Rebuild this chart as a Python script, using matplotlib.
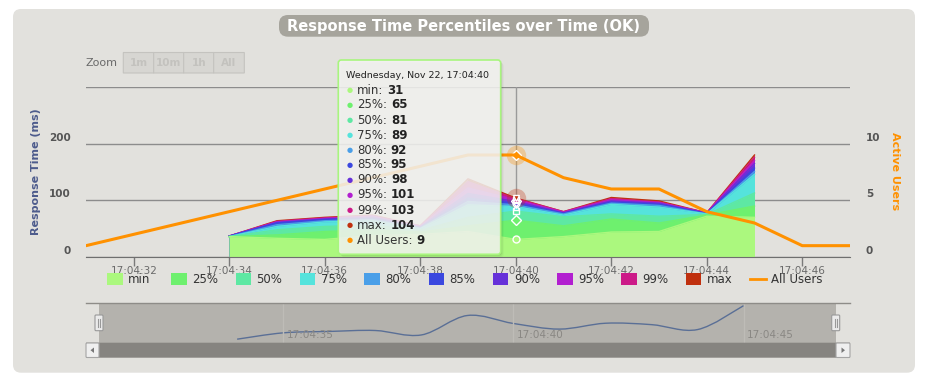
import numpy as np
import matplotlib
matplotlib.use("Agg")
import matplotlib.pyplot as plt
from matplotlib.patches import FancyBboxPatch, Rectangle, Polygon, PathPatch
from matplotlib.lines import Line2D
from matplotlib.path import Path
from matplotlib.transforms import Affine2D

# ---- data (seconds past 17:04) ----
times = [34, 35, 36, 37, 38, 39, 40, 41, 42, 43, 44, 45]
p_min = [36, 33, 31, 38, 40, 45, 31, 36, 44, 45, 72, 70]
p25 = [36, 39, 45, 48, 44, 55, 65, 55, 67, 60, 74, 90]
p50 = [36, 48, 54, 56, 47, 70, 81, 71, 76, 72, 75, 113]
p75 = [36, 54, 62, 64, 50, 92, 89, 74, 93, 88, 76, 146]
p80 = [36, 57, 64, 66, 51, 98, 92, 76, 95, 91, 76, 151]
p85 = [37, 60, 66, 68, 52, 104, 95, 77, 97, 93, 77, 157]
p90 = [37, 61, 67, 70, 53, 112, 98, 78, 99, 95, 77, 165]
p95 = [37, 62, 68, 72, 54, 122, 101, 79, 101, 96, 78, 170]
p99 = [37, 63, 69, 73, 55, 133, 103, 80, 103, 97, 78, 176]
p_max = [37, 64, 70, 74, 55, 138, 104, 80, 105, 99, 78, 180]

user_times = [31, 32, 33, 34, 35, 36, 37, 38, 39, 40, 41, 42, 43, 44, 45, 46, 47]
users = [1, 2, 3, 4, 5, 6, 7, 8, 9, 9, 7, 6, 6, 4, 3, 1, 1]

series_names = ["min", "25%", "50%", "75%", "80%", "85%", "90%", "95%", "99%", "max"]
series_vals = [p_min, p25, p50, p75, p80, p85, p90, p95, p99, p_max]
series_colors = ["#abf87e", "#6ef06e", "#5ee8a3", "#55e3dc", "#4a9fe8", "#3b48df",
                 "#6631d9", "#b21fd0", "#cc1a88", "#c0300e"]
markers = ["o", "D", "s", "^", "v", "o", "D", "s", "^", "v"]

x_ticks = [32, 34, 36, 38, 40, 42, 44, 46]
x_tick_labels = ["17:04:%02d" % s for s in x_ticks]
nav_ticks = [35, 40, 45]
hover_t = 40
hover_header = "Wednesday, Nov 22, 17:04:40"

users_color = "#ff9100"
W, H = 928, 382

fig = plt.figure(figsize=(W / 100, H / 100), dpi=100)
pix = Affine2D().scale(1, -1).translate(0, H)   # top-left pixel coords


def rect(x0, y0, x1, y1):
    return [x0 / W, 1 - y1 / H, (x1 - x0) / W, (y1 - y0) / H]


def box(x0, y0, x1, y1, r=0, **kw):
    p = FancyBboxPatch((x0, y0), x1 - x0, y1 - y0,
                       boxstyle="round,pad=0,rounding_size=%g" % r,
                       transform=pix, **kw)
    fig.patches.append(p)
    return p


def ftext(x, y, s, **kw):
    return fig.text(x / W, 1 - y / H, s, **kw)


# panel + title
box(13, 9, 915, 372.7, r=8, facecolor="#e2e1dd", edgecolor="none", zorder=-5)
box(279, 15, 649, 36.7, r=9, facecolor="#a6a49c", edgecolor="none", zorder=-4)
ftext(464, 26, "Response Time Percentiles over Time (OK)", ha="center", va="center",
      color="white", weight="bold", fontsize=10.5)

# zoom buttons
ftext(86, 63.5, "Zoom", ha="left", va="center", color="#6a6a6a", fontsize=8)
edges = [123.3, 153.7, 183.7, 213.7, 244.3]
for lab, a, b in zip(["1m", "10m", "1h", "All"], edges[:-1], edges[1:]):
    box(a, 52.5, b, 73, facecolor="#d7d6d2", edgecolor="#c4c3bf", linewidth=0.8, zorder=-3)
    ftext((a + b) / 2, 62.5, lab, ha="center", va="center", color="#c3c2be",
          fontsize=7.5, weight="bold")

# main chart
ax = fig.add_axes(rect(86, 87, 850, 257))
ax.patch.set_visible(False)
ax.set_xlim(31, 47)
ax.set_ylim(0, 300)
ax.set_yticks([0, 100, 200, 300])
ax.yaxis.grid(True, color="#8c8c8c", linewidth=1)
ax.set_axisbelow(True)
ax.tick_params(axis="y", length=0, labelleft=False)
ax.set_xticks(x_ticks)
ax.set_xticklabels(x_tick_labels)
ax.tick_params(axis="x", length=6.3, width=1, color="#7a7a7a", labelsize=7.5,
               labelcolor="#6a6a6a", pad=0.3)
for s in ["top", "left", "right"]:
    ax.spines[s].set_visible(False)
ax.spines["bottom"].set_color("#6f6f6f")

ax.axvline(hover_t, color="#9a9a9a", linewidth=1, zorder=1)

for vals, col in zip(reversed(series_vals), reversed(series_colors)):
    ax.fill_between(times, 0, vals, color=col, linewidth=0, zorder=2)
    ax.plot(times, vals, color=col, linewidth=1, zorder=2)

i_h = times.index(hover_t)
ax.plot([hover_t], [p_max[i_h]], "o", ms=14, color=series_colors[-1], alpha=0.3,
        mec="none", zorder=3)
for vals, col, m in zip(series_vals, series_colors, markers):
    ax.plot([hover_t], [vals[i_h]], marker=m, ms=5, mfc=col, mec="white", mew=1, zorder=4)

for v in [0, 100, 200]:
    ax.annotate(str(v), xy=(0, v), xycoords=("axes fraction", "data"),
                xytext=(-10.8, 4.3), textcoords="offset points", ha="right", va="center",
                fontsize=7.5, weight="bold", color="#555555")

ax2 = ax.twinx()
ax2.set_ylim(0, 15)
ax2.axis("off")
ax2.plot(user_times, users, color=users_color, linewidth=2.2, solid_joinstyle="round",
         solid_capstyle="round", zorder=3)
iu = user_times.index(hover_t)
ax2.plot([hover_t], [users[iu]], "o", ms=14, color=users_color, alpha=0.3, mec="none")
ax2.plot([hover_t], [users[iu]], "D", ms=5, mfc=users_color, mec="white", mew=1)
for v in [0, 5, 10]:
    ax2.annotate(str(v), xy=(1, v), xycoords=("axes fraction", "data"),
                 xytext=(11.3, 4.3), textcoords="offset points", ha="left", va="center",
                 fontsize=7.5, weight="bold", color="#555555")

ftext(36, 171.7, "Response Time (ms)", rotation=90, ha="center", va="center",
      color="#4d5b8c", weight="bold", fontsize=8)
ftext(895, 171.5, "Active Users", rotation=270, ha="center", va="center",
      color=users_color, weight="bold", fontsize=8)

# legend
for i, (name, col) in enumerate(zip(series_names, series_colors)):
    x0 = 107 + i * 64.3
    fig.patches.append(Rectangle((x0, 273.3), 15.5, 11.7, transform=pix,
                                 facecolor=col, edgecolor="none"))
    ftext(x0 + 21, 279.5, name, ha="left", va="center", fontsize=8.5, color="#333333")
fig.lines.append(Line2D([750, 765.7], [H - 279.3, H - 279.3], color=users_color,
                        linewidth=2, transform=None))
ftext(770.7, 279.5, "All Users", ha="left", va="center", fontsize=8.5, color="#333333")

# navigator
nav = fig.add_axes(rect(99, 303.3, 835.7, 342.7))
nav.set_facecolor("#b4b2ad")
nav.set_xlim(31, 47)
nav.set_ylim(22, 190)
nav.set_xticks([])
nav.set_yticks([])
for s in nav.spines.values():
    s.set_visible(False)
for t in nav_ticks:
    nav.axvline(t, color="#bebcb7", linewidth=1)
    nav.annotate("17:04:%02d" % t, xy=(t, 0.2), xycoords=("data", "axes fraction"),
                 xytext=(2.5, 0), textcoords="offset points", ha="left", va="center",
                 fontsize=7.5, color="#8a8884")

verts = [(times[0], p_max[0])]
codes = [Path.MOVETO]
n = len(times)
for i in range(n - 1):
    xa, ya = (times[i - 1], p_max[i - 1]) if i > 0 else (times[i], p_max[i])
    xd, yd = (times[i + 2], p_max[i + 2]) if i + 2 < n else (times[i + 1], p_max[i + 1])
    c1 = (times[i] + (times[i + 1] - xa) / 6, p_max[i] + (p_max[i + 1] - ya) / 6)
    c2 = (times[i + 1] - (xd - times[i]) / 6, p_max[i + 1] - (yd - p_max[i]) / 6)
    verts += [c1, c2, (times[i + 1], p_max[i + 1])]
    codes += [Path.CURVE4] * 3
nav.add_patch(PathPatch(Path(verts, codes), fill=False, edgecolor="#5a6f96", linewidth=1))

fig.lines.append(Line2D([86, 850], [H - 303.3, H - 303.3], color="#8e8c88",
                        linewidth=1, transform=None))
# scrollbar
box(86, 342.7, 850, 357.7, facecolor="#868480", edgecolor="none")
for a, b, pts in [(86, 99, [(94, 347.5), (94, 353), (90.5, 350.2)]),
                  (836, 850, [(841.5, 347.5), (841.5, 353), (845, 350.2)])]:
    box(a, 343, b, 357.5, r=1, facecolor="#efefef", edgecolor="#a5a5a5", linewidth=0.8)
    fig.patches.append(Polygon(pts, closed=True, transform=pix, facecolor="#777777",
                               edgecolor="none"))
# navigator handles
for xc in [99, 835.7]:
    box(xc - 4, 315, xc + 4, 330.7, r=1, facecolor="#ebebeb", edgecolor="#999999",
        linewidth=0.8)
    for dx in (-1.2, 1.2):
        fig.lines.append(Line2D([xc + dx, xc + dx], [H - 319, H - 327], color="#999999",
                                linewidth=0.8, transform=None))

# tooltip
for k, a in enumerate([0.08, 0.05, 0.03]):
    box(338.3 + k + 1, 60 + k + 1, 500.7 + k + 1, 254.3 + k + 1, r=3,
        facecolor="black", alpha=a, edgecolor="none", zorder=5)
box(338.3, 60, 500.7, 254.3, r=3, facecolor="#f7f7f5", alpha=0.85, edgecolor="none", zorder=6)
box(338.3, 60, 500.7, 254.3, r=3, facecolor="none", edgecolor="#a8f57e", linewidth=1.2, zorder=6)
ftext(346, 75.7, hover_header, ha="left", va="center", fontsize=6.8, color="#222222",
      zorder=7)
rows = [(nm, v[i_h], c) for nm, v, c in zip(series_names, series_vals, series_colors)]
rows.append(("All Users", users[iu], users_color))
for k, (nm, v, c) in enumerate(rows):
    y = 90 + 15 * k
    ftext(349.3, y, "\u25cf", ha="center", va="center", fontsize=5, color=c, zorder=7)
    lab = ftext(357.3, y, nm + ":", ha="left", va="center", fontsize=8.5,
                color="#333333", zorder=7)
    fig.add_artist(plt.Annotation(str(v), xy=(1, 0), xycoords=lab, xytext=(2.6, 0),
                                  textcoords="offset points", ha="left", va="bottom",
                                  fontsize=8.5, weight="bold", color="#222222", zorder=7))

fig.savefig("out.png", dpi=100, facecolor="white")
